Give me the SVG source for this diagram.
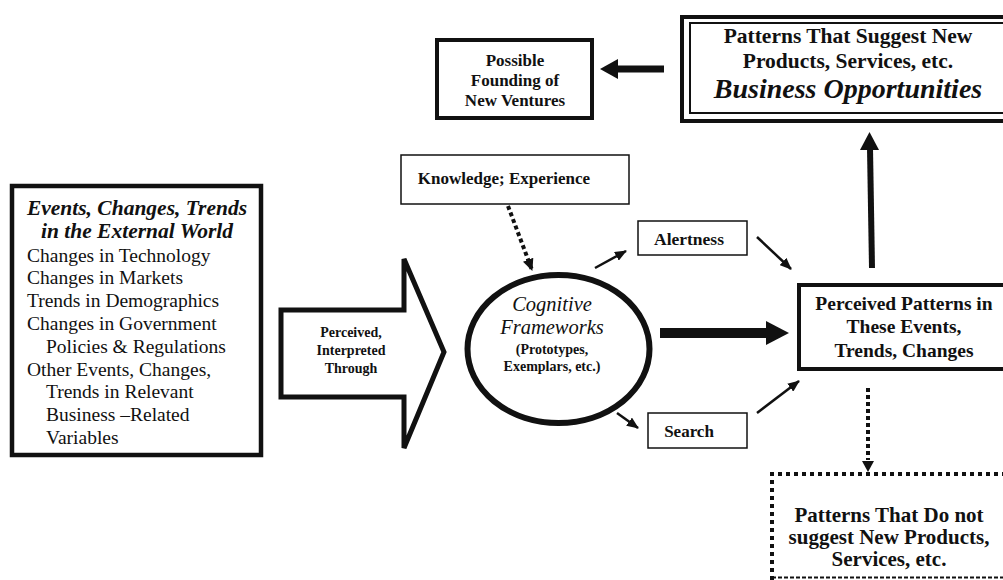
<svg xmlns="http://www.w3.org/2000/svg" width="1003" height="580" viewBox="0 0 1003 580">
  <style>
    text { font-family: "Liberation Serif", "Times New Roman", serif; fill: #111; }
    .b { font-weight: bold; }
    .i { font-style: italic; }
    .mid { text-anchor: middle; }
    .box { fill: #fff; stroke: #111; }
    .ln { stroke: #111; fill: none; }
    .head { fill: #111; stroke: none; }
  </style>
  <defs>
    <marker id="arrowSmall" markerUnits="userSpaceOnUse" markerWidth="12" markerHeight="10" refX="11" refY="5" orient="auto">
      <path d="M0,0 L12,5 L0,10 z" fill="#111"/>
    </marker>
    <marker id="arrowDot" markerUnits="userSpaceOnUse" markerWidth="12" markerHeight="11" refX="11" refY="5.5" orient="auto">
      <path d="M0,0 L12,5.5 L0,11 z" fill="#111"/>
    </marker>
  </defs>
  <rect width="1003" height="580" fill="#fff"/>

  <!-- External world box -->
  <g id="external-world">
    <rect class="box" x="12" y="186" width="249" height="269" stroke-width="4.5"/>
    <text class="b i mid" x="137" y="215" font-size="21.5">Events, Changes, Trends</text>
    <text class="b i mid" x="137" y="238" font-size="21.5">in the External World</text>
    <g font-size="19.5">
      <text x="27" y="262">Changes in Technology</text>
      <text x="27" y="284">Changes in Markets</text>
      <text x="27" y="307">Trends in Demographics</text>
      <text x="27" y="330">Changes in Government</text>
      <text x="46" y="353">Policies &amp; Regulations</text>
      <text x="27" y="376">Other Events, Changes,</text>
      <text x="46" y="398">Trends in Relevant</text>
      <text x="46" y="421">Business –Related</text>
      <text x="46" y="444">Variables</text>
    </g>
  </g>

  <!-- Block arrow: perceived, interpreted through -->
  <g id="perceived-through">
    <polygon class="box" points="281,310 404,310 404,259 444,352 404,448 404,397 281,397" stroke-width="5" stroke-linejoin="miter"/>
    <text class="b mid" x="351" y="337" font-size="14">Perceived,</text>
    <text class="b mid" x="351" y="355" font-size="14">Interpreted</text>
    <text class="b mid" x="351" y="373" font-size="14">Through</text>
  </g>

  <!-- Knowledge box -->
  <g id="knowledge">
    <rect class="box" x="401" y="155" width="228" height="49" stroke-width="1.5"/>
    <text class="b mid" x="504" y="184" font-size="17">Knowledge; Experience</text>
  </g>

  <!-- Cognitive frameworks -->
  <g id="cognitive-frameworks">
    <ellipse class="box" cx="558.5" cy="349" rx="91" ry="74" stroke-width="6"/>
    <text class="i mid" x="552" y="311" font-size="20.5">Cognitive</text>
    <text class="i mid" x="552" y="334" font-size="20.5">Frameworks</text>
    <text class="b mid" x="552" y="354" font-size="14">(Prototypes,</text>
    <text class="b mid" x="552" y="371" font-size="14">Exemplars, etc.)</text>
  </g>

  <!-- Alertness -->
  <g id="alertness">
    <rect class="box" x="638" y="221" width="109" height="34" stroke-width="1.5"/>
    <text class="b mid" x="689" y="245" font-size="17.5">Alertness</text>
  </g>

  <!-- Search -->
  <g id="search">
    <rect class="box" x="648" y="413" width="99" height="35" stroke-width="1.5"/>
    <text class="b mid" x="689" y="437" font-size="17">Search</text>
  </g>

  <!-- Perceived patterns -->
  <g id="perceived-patterns">
    <rect class="box" x="799" y="285" width="210" height="84" stroke-width="4"/>
    <text class="b mid" x="904" y="310" font-size="19.5">Perceived Patterns in</text>
    <text class="b mid" x="904" y="333" font-size="19.5">These Events,</text>
    <text class="b mid" x="904" y="357" font-size="19.5">Trends, Changes</text>
  </g>

  <!-- Business opportunities (double frame) -->
  <g id="business-opportunities">
    <rect class="box" x="682" y="17" width="330" height="104" stroke-width="4"/>
    <rect fill="none" stroke="#111" x="690" y="23" width="320" height="90" stroke-width="2"/>
    <text class="b mid" x="848" y="43" font-size="21.5">Patterns That Suggest New</text>
    <text class="b mid" x="848" y="68" font-size="21.5">Products, Services, etc.</text>
    <text class="b i mid" x="848" y="98" font-size="28">Business Opportunities</text>
  </g>

  <!-- New ventures -->
  <g id="new-ventures">
    <rect class="box" x="437" y="40" width="155" height="78" stroke-width="4"/>
    <text class="b mid" x="515" y="66" font-size="17">Possible</text>
    <text class="b mid" x="515" y="86" font-size="17">Founding of</text>
    <text class="b mid" x="515" y="106" font-size="17">New Ventures</text>
  </g>

  <!-- Patterns without new products (dotted frame) -->
  <g id="no-new-products">
    <path d="M772,580 L772,474 L1005,474" fill="none" stroke="#111" stroke-width="4" stroke-dasharray="4 4"/>
    <line x1="772" y1="577.5" x2="1005" y2="577.5" stroke="#111" stroke-width="2" stroke-dasharray="4 2"/>
    <text class="b mid" x="889" y="522" font-size="21">Patterns That Do not</text>
    <text class="b mid" x="889" y="544" font-size="21">suggest New Products,</text>
    <text class="b mid" x="889" y="566" font-size="21">Services, etc.</text>
  </g>

  <!-- Connectors -->
  <g id="connectors">
    <!-- knowledge feeds the frameworks -->
    <line class="ln" x1="508" y1="206" x2="532" y2="270" stroke-width="4" stroke-dasharray="4 3" marker-end="url(#arrowDot)"/>
    <!-- frameworks to alertness / search -->
    <line class="ln" x1="595" y1="268" x2="626" y2="251" stroke-width="2.5" marker-end="url(#arrowSmall)"/>
    <line class="ln" x1="617" y1="413" x2="638" y2="428" stroke-width="2.5" marker-end="url(#arrowSmall)"/>
    <!-- alertness / search to perceived patterns -->
    <line class="ln" x1="757" y1="237" x2="791" y2="269" stroke-width="2.5" marker-end="url(#arrowSmall)"/>
    <line class="ln" x1="757" y1="413" x2="799" y2="381" stroke-width="2.5" marker-end="url(#arrowSmall)"/>
    <!-- frameworks to perceived patterns -->
    <line class="ln" x1="660" y1="333" x2="770" y2="333" stroke-width="10"/>
    <polygon class="head" points="766,321 789,333 766,345"/>
    <!-- perceived patterns up to business opportunities -->
    <line class="ln" x1="872" y1="268" x2="870" y2="148" stroke-width="6"/>
    <polygon class="head" points="860,150 869.5,132 879,150"/>
    <!-- business opportunities to new ventures -->
    <line class="ln" x1="664" y1="69" x2="614" y2="69" stroke-width="7"/>
    <polygon class="head" points="618,59 600,69 618,79"/>
    <!-- perceived patterns down to non-opportunities -->
    <line class="ln" x1="868" y1="388" x2="868" y2="460" stroke-width="4" stroke-dasharray="4 3"/>
    <polygon class="head" points="862,461 868,472 874,461"/>
  </g>
</svg>
